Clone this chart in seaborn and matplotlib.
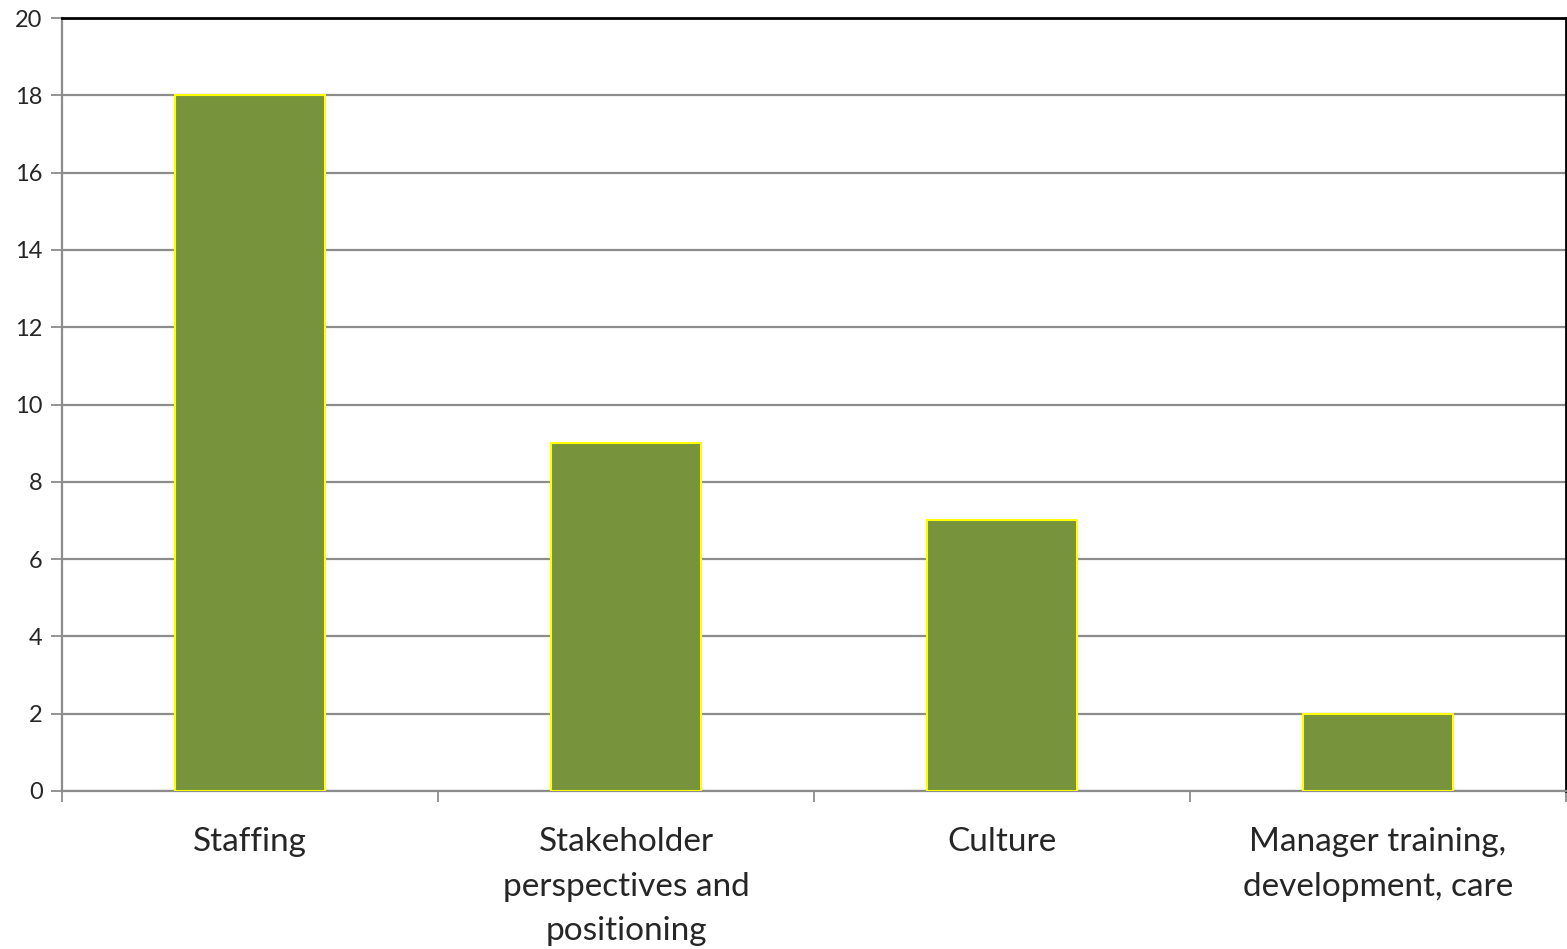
import matplotlib
matplotlib.use("Agg")
import matplotlib.pyplot as plt
import seaborn as sns
import pandas as pd

# data
categories = ["Staffing", "Stakeholder\nperspectives and\npositioning", "Culture",
              "Manager training,\ndevelopment, care"]
counts = [18, 9, 7, 2]
y_ticks = list(range(0, 21, 2))

df = pd.DataFrame({"category": categories, "count": counts})

sns.set_style("white")
plt.rcParams["font.family"] = ["Lato", "DejaVu Sans"]

fig = plt.figure(figsize=(15.67, 9.49), dpi=100)
ax = fig.add_axes([0.0396, 0.1665, 0.9598, 0.8145])

sns.barplot(data=df, x="category", y="count", color="#77933C", width=0.4,
            edgecolor="#FFFF00", linewidth=1.5, saturation=1, ax=ax, zorder=3)

ax.set_ylim(0, 20)
ax.set_xlim(-0.5, len(categories) - 0.5)
ax.set_yticks(y_ticks)
ax.set_yticklabels([str(v) for v in y_ticks], fontsize=17)
ax.yaxis.grid(True, color="#8C8C8C", linewidth=1.6, zorder=0)
ax.set_axisbelow(True)

# category boundary ticks
ax.set_xticks(range(len(categories)))
ax.set_xticklabels(categories, fontsize=24, linespacing=1.6)
ax.set_xticks([i - 0.5 for i in range(len(categories) + 1)], minor=True)
ax.tick_params(axis="x", which="major", bottom=True, length=0, pad=26)
ax.tick_params(axis="x", which="minor", bottom=True, length=8, width=1.3,
               color="#8C8C8C", direction="out")
ax.tick_params(axis="y", left=True, length=8, width=1.3, color="#8C8C8C",
               direction="out", pad=6)

ax.set_xlabel("")
ax.set_ylabel("")

for side in ["left", "bottom"]:
    ax.spines[side].set_color("#8C8C8C")
    ax.spines[side].set_linewidth(1.6)
for side in ["top", "right"]:
    ax.spines[side].set_color("black")
    ax.spines[side].set_linewidth(2)

fig.savefig("out.png", dpi=100)
